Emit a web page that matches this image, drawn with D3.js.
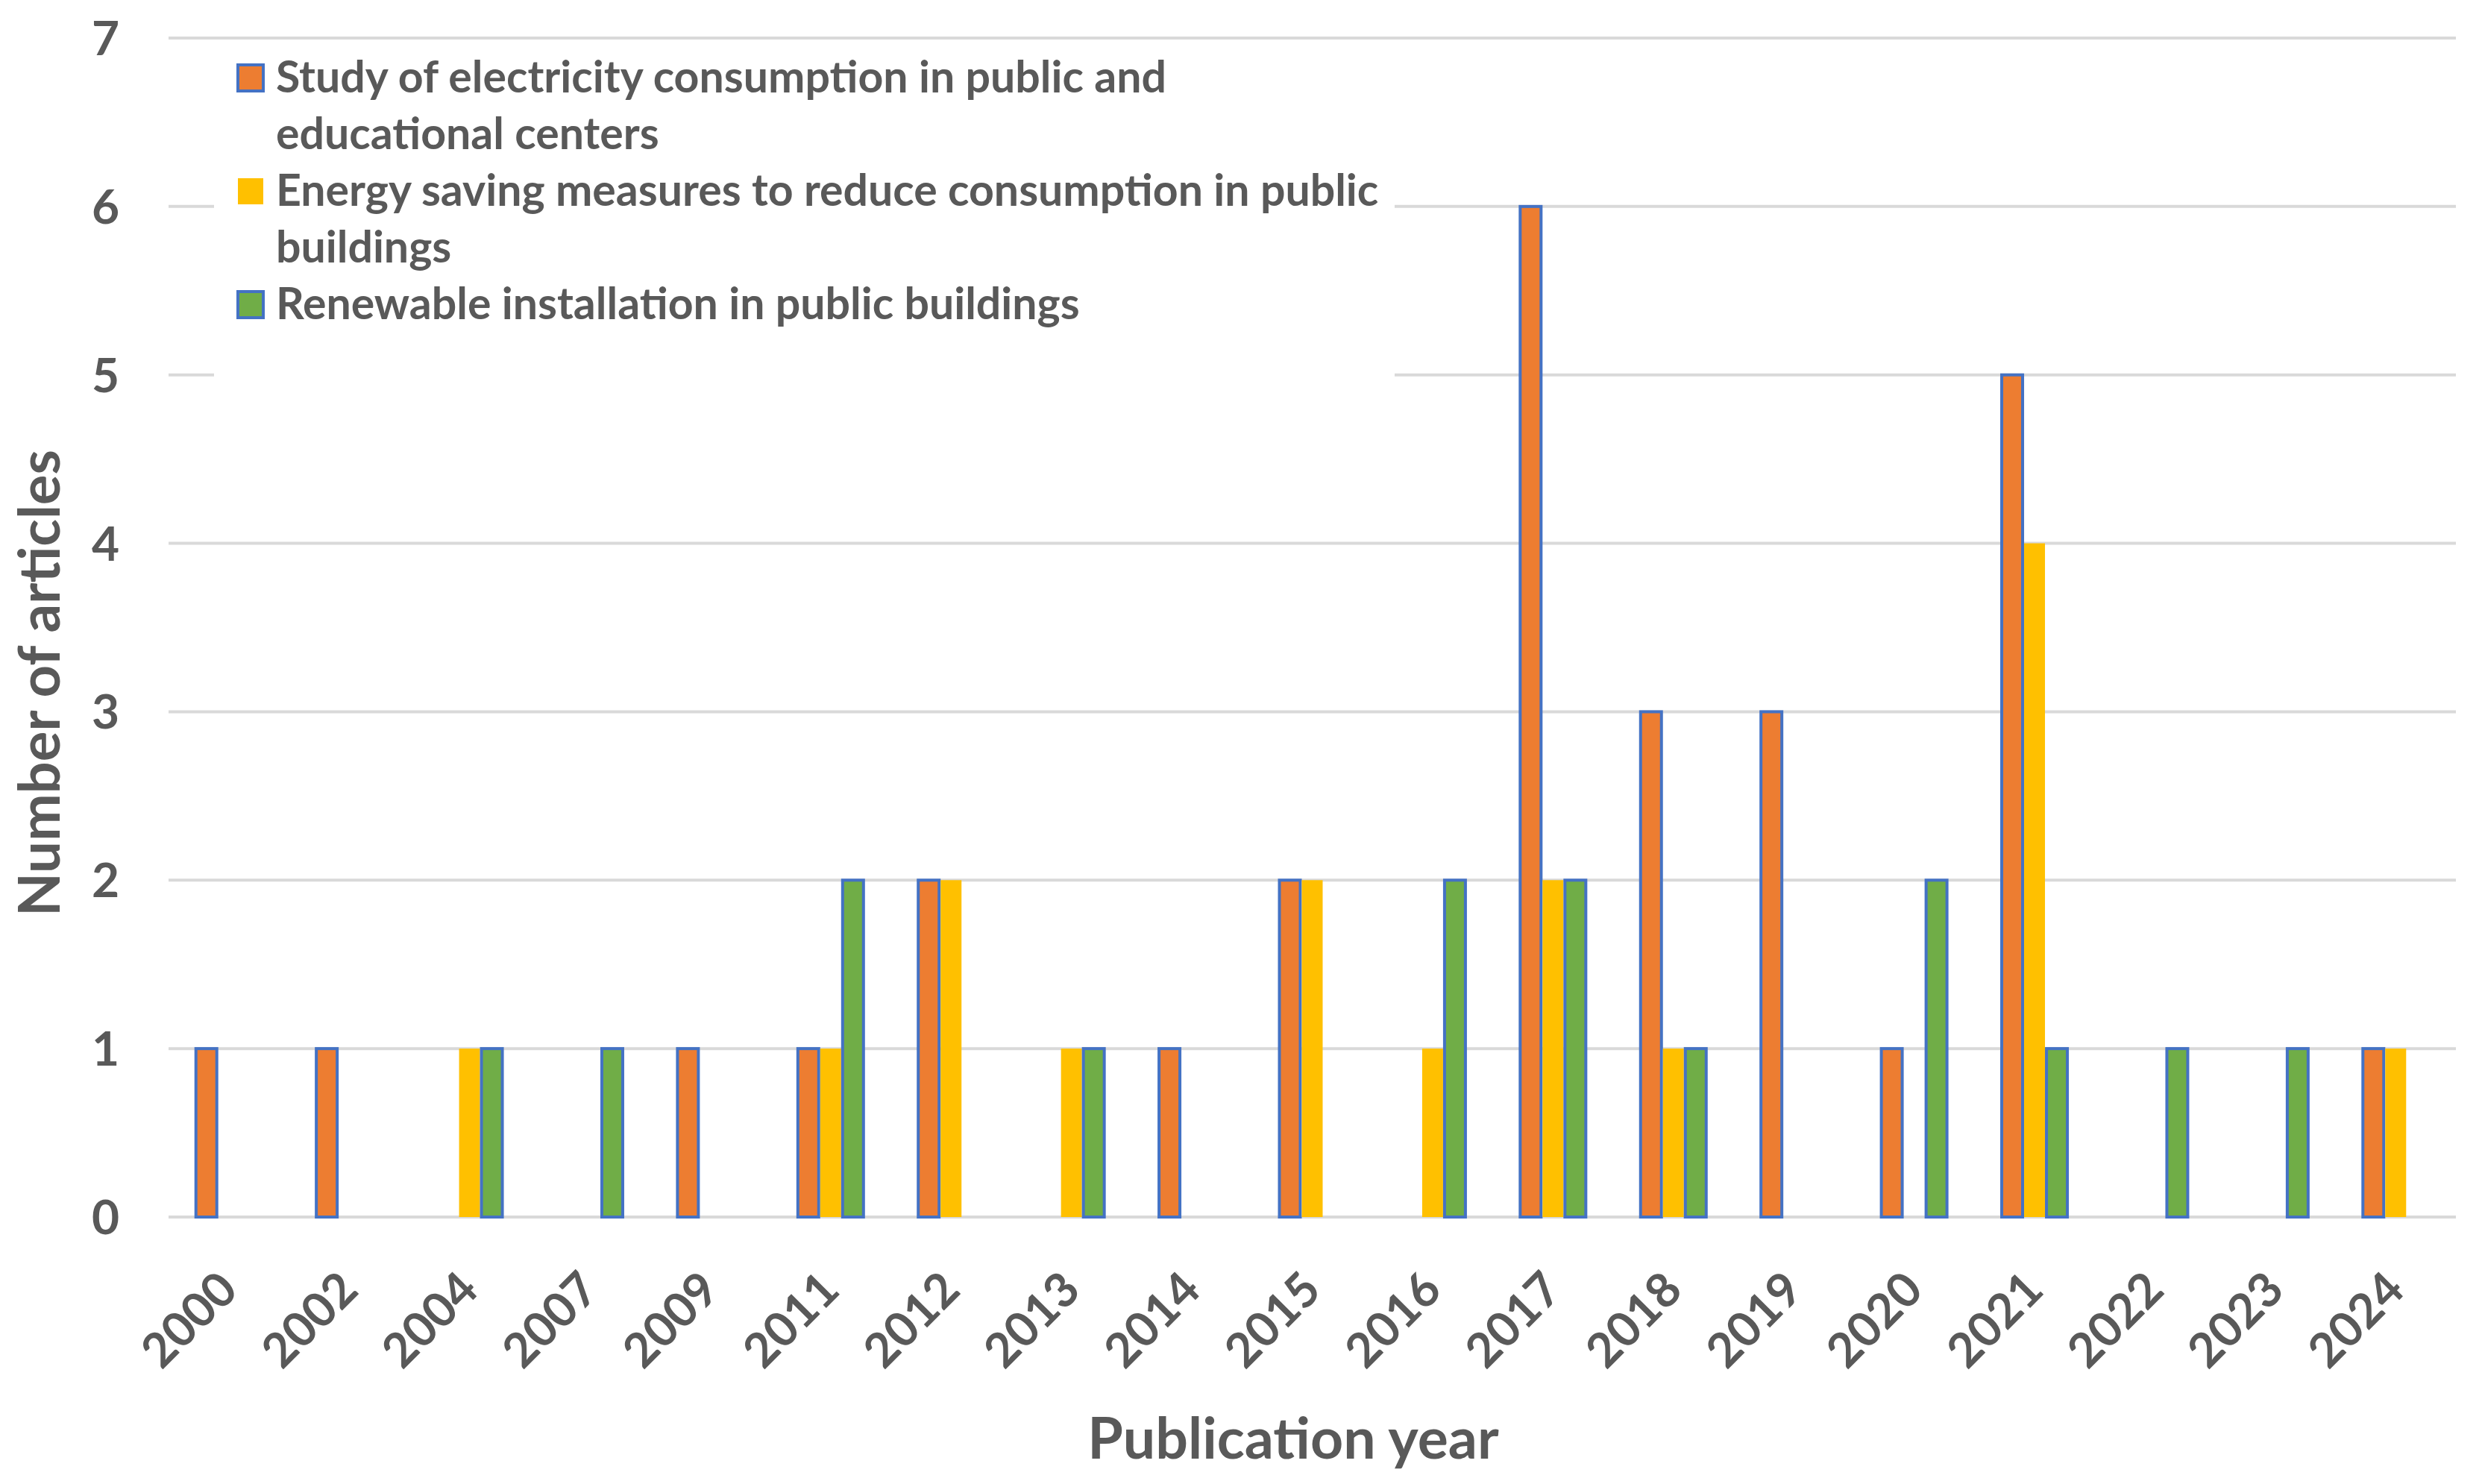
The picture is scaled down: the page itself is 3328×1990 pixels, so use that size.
<!DOCTYPE html>
<html>
<head>
<meta charset="utf-8">
<script src="https://cdn.jsdelivr.net/npm/d3@7"></script>
<style>
  body { margin: 0; background: #fff; }
  text { font-family: Lato, "Open Sans", sans-serif; font-weight: bold; fill: #595959; }
</style>
</head>
<body>
<svg id="svg" width="3328" height="1990"></svg>
<script>
// Data
var years = ["2000", "2002", "2004", "2007", "2009", "2011", "2012", "2013", "2014", "2015",
  "2016", "2017", "2018", "2019", "2020", "2021", "2022", "2023", "2024"]
var studyConsumption = [1, 1, 0, 0, 1, 1, 2, 0, 1, 2, 0, 6, 3, 3, 1, 5, 0, 0, 1]
var savingMeasures = [0, 0, 1, 0, 0, 1, 2, 1, 0, 2, 1, 2, 1, 0, 0, 4, 0, 0, 1]
var renewableInstall = [0, 0, 1, 1, 0, 2, 0, 1, 0, 0, 2, 2, 1, 0, 2, 1, 1, 1, 0]
var seriesNames = [
  "Study of electricity consumption in public and\neducational centers",
  "Energy saving measures to reduce consumption in public\nbuildings",
  "Renewable installation in public buildings"
]
var yTicks = [0, 1, 2, 3, 4, 5, 6, 7]

var seriesKeys = ["study", "saving", "renewable"]
var colors = { study: "#ED7D31", saving: "#FFC000", renewable: "#70AD47" }
var outlined = { study: true, saving: false, renewable: true }

var rows = years.map((yr, i) => {
  return { year: yr, study: studyConsumption[i], saving: savingMeasures[i], renewable: renewableInstall[i] }
})

let svg = d3.select("#svg")

const plot = { left: 226, right: 3293, top: 51, bottom: 1632 }

let x = d3.scaleBand()
  .domain(years)
  .range([plot.left, plot.right])
  .padding(0)

let x1 = d3.scaleBand()
  .domain(seriesKeys)
  .range([-44, 44])
  .paddingInner(0.067)

let y = d3.scaleLinear()
  .domain([0, 7])
  .range([plot.bottom, plot.top])

// gridlines
svg.append("g")
  .selectAll("line")
  .data(yTicks)
  .enter().append("line")
  .attr("x1", plot.left)
  .attr("x2", plot.right)
  .attr("y1", d => y(d))
  .attr("y2", d => y(d))
  .attr("stroke", "#D9D9D9")
  .attr("stroke-width", 4)

// y tick labels
svg.append("g")
  .selectAll("text")
  .data(yTicks)
  .enter().append("text")
  .attr("x", 160)
  .attr("y", d => y(d))
  .attr("dy", "0.36em")
  .attr("text-anchor", "end")
  .style("font-size", "64px")
  .text(d => d)

// legend (white box hides gridlines behind it)
let legend = svg.append("g").attr("class", "legend")
legend.append("rect")
  .attr("x", 287)
  .attr("y", 60)
  .attr("width", 1583)
  .attr("height", 475)
  .attr("fill", "#fff")

let lineH = 76
let lineNo = 0
seriesKeys.forEach((key, i) => {
  let lines = seriesNames[i].split("\n")
  let base = 124 + lineNo * lineH
  legend.append("rect")
    .attr("x", 319)
    .attr("y", base - 37)
    .attr("width", 34)
    .attr("height", 35)
    .attr("fill", colors[key])
    .attr("stroke", outlined[key] ? "#4472C4" : "none")
    .attr("stroke-width", 4)
  let t = legend.append("text")
    .attr("x", 370)
    .attr("y", base)
    .style("font-size", "59px")
  lines.forEach((ln, j) => {
    t.append("tspan")
      .attr("x", 370)
      .attr("dy", j == 0 ? 0 : lineH)
      .text(ln)
  })
  lineNo += lines.length
})

// bars
let groups = svg.append("g")
  .selectAll("g")
  .data(rows)
  .enter().append("g")
  .attr("transform", d => "translate(" + (x(d.year) + x.bandwidth() / 2) + ",0)")

groups.selectAll("rect")
  .data(d => seriesKeys.map(k => ({ key: k, value: d[k] })).filter(e => e.value > 0))
  .enter().append("rect")
  .attr("x", d => x1(d.key))
  .attr("width", x1.bandwidth())
  .attr("y", d => y(d.value))
  .attr("height", d => y(0) - y(d.value))
  .attr("fill", d => colors[d.key])
  .attr("stroke", d => outlined[d.key] ? "#4472C4" : "none")
  .attr("stroke-width", 4)

// x tick labels, rotated
svg.append("g")
  .selectAll("text")
  .data(years)
  .enter().append("text")
  .attr("text-anchor", "end")
  .attr("transform", d => "translate(" + (x(d) + x.bandwidth() / 2 + 15) + ",1733)rotate(-45)")
  .style("font-size", "64px")
  .text(d => d)

// axis titles
svg.append("text")
  .attr("text-anchor", "middle")
  .attr("transform", "translate(1734,1956)")
  .style("font-size", "77px")
  .text("Publication year")

svg.append("text")
  .attr("text-anchor", "middle")
  .attr("transform", "translate(80,916)rotate(-90)")
  .style("font-size", "76px")
  .text("Number of articles")
</script>
</body>
</html>
